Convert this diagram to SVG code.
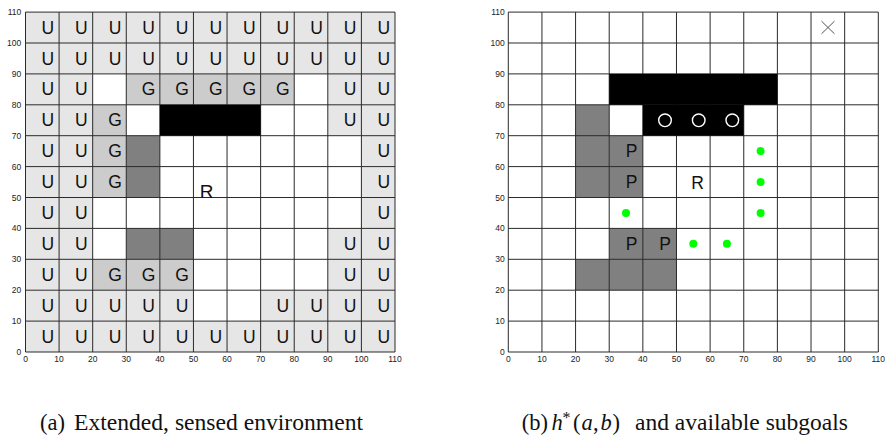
<svg xmlns="http://www.w3.org/2000/svg" width="885" height="437" viewBox="0 0 885 437">
  <style>
    .u { fill: #e6e6e6; }
    .g { fill: #cccccc; }
    .d { fill: #808080; }
    .k { fill: #000000; }
    .grid { fill: none; stroke: #2a2a2a; stroke-width: 1; }
    .lt { font-family: "Liberation Sans", Arial, sans-serif; font-size: 17.5px; fill: #111; text-anchor: middle; }
    .tk { font-family: "Liberation Sans", Arial, sans-serif; font-size: 8.5px; fill: #222; }
    .tx { text-anchor: middle; }
    .ty { text-anchor: end; }
    .cap { font-family: "Liberation Serif", "Times New Roman", serif; font-size: 22.5px; fill: #111; }
    .mi { font-style: italic; }
    .sg { fill: #00ff00; }
    .ring { fill: none; stroke: #ffffff; stroke-width: 1.4; }
  </style>

  <rect x="0" y="0" width="885" height="437" fill="#ffffff"/>

  <!-- Panel (a): extended, sensed environment -->
  <g id="panel-a">
    <g id="cells-a">
      <rect class="u" x="25.5" y="12.1" width="369.5" height="61.8"/>
      <rect class="u" x="25.5" y="73.9" width="67.18" height="30.9"/>
      <rect class="g" x="126.27" y="73.9" width="167.95" height="30.9"/>
      <rect class="u" x="327.81" y="73.9" width="67.19" height="30.9"/>
      <rect class="u" x="25.5" y="104.8" width="67.18" height="30.9"/>
      <rect class="g" x="92.68" y="104.8" width="33.59" height="30.9"/>
      <rect class="u" x="327.81" y="104.8" width="67.19" height="30.9"/>
      <rect class="u" x="25.5" y="135.7" width="67.18" height="92.7"/>
      <rect class="g" x="92.68" y="135.7" width="33.59" height="61.8"/>
      <rect class="d" x="126.27" y="135.7" width="33.59" height="61.8"/>
      <rect class="u" x="361.4" y="135.7" width="33.6" height="92.7"/>
      <rect class="u" x="25.5" y="228.4" width="67.18" height="61.8"/>
      <rect class="d" x="126.27" y="228.4" width="67.18" height="30.9"/>
      <rect class="u" x="327.81" y="228.4" width="67.19" height="61.8"/>
      <rect class="g" x="92.68" y="259.3" width="100.77" height="30.9"/>
      <rect class="u" x="25.5" y="290.2" width="167.95" height="30.9"/>
      <rect class="u" x="260.63" y="290.2" width="134.37" height="30.9"/>
      <rect class="u" x="25.5" y="321.1" width="369.5" height="30.9"/>
    </g>
    <path id="grid-a" class="grid" d="M25.5 12.1V352M59.09 12.1V352M92.68 12.1V352M126.27 12.1V352M159.86 12.1V352M193.45 12.1V352M227.04 12.1V352M260.63 12.1V352M294.22 12.1V352M327.81 12.1V352M361.4 12.1V352M395 12.1V352M25.5 12.1H395M25.5 43H395M25.5 73.9H395M25.5 104.8H395M25.5 135.7H395M25.5 166.6H395M25.5 197.5H395M25.5 228.4H395M25.5 259.3H395M25.5 290.2H395M25.5 321.1H395M25.5 352H395"/>
    <!-- solid obstacle sits on top of the grid -->
    <g id="obstacle-a">
      <rect class="k" x="159.86" y="104.8" width="100.77" height="30.9"/>
    </g>
    <g id="marks-a" class="lt">
      <!-- y 100-110 -->
      <text x="47.8" y="33.6">U</text><text x="81.39" y="33.6">U</text><text x="114.98" y="33.6">U</text><text x="148.57" y="33.6">U</text><text x="182.16" y="33.6">U</text><text x="215.75" y="33.6">U</text><text x="249.34" y="33.6">U</text><text x="282.93" y="33.6">U</text><text x="316.52" y="33.6">U</text><text x="350.11" y="33.6">U</text><text x="383.7" y="33.6">U</text>
      <!-- y 90-100 -->
      <text x="47.8" y="64.5">U</text><text x="81.39" y="64.5">U</text><text x="114.98" y="64.5">U</text><text x="148.57" y="64.5">U</text><text x="182.16" y="64.5">U</text><text x="215.75" y="64.5">U</text><text x="249.34" y="64.5">U</text><text x="282.93" y="64.5">U</text><text x="316.52" y="64.5">U</text><text x="350.11" y="64.5">U</text><text x="383.7" y="64.5">U</text>
      <!-- y 80-90 -->
      <text x="47.8" y="95.4">U</text><text x="81.39" y="95.4">U</text><text x="148.57" y="95.4">G</text><text x="182.16" y="95.4">G</text><text x="215.75" y="95.4">G</text><text x="249.34" y="95.4">G</text><text x="282.93" y="95.4">G</text><text x="350.11" y="95.4">U</text><text x="383.7" y="95.4">U</text>
      <!-- y 70-80 -->
      <text x="47.8" y="126.3">U</text><text x="81.39" y="126.3">U</text><text x="114.98" y="126.3">G</text><text x="350.11" y="126.3">U</text><text x="383.7" y="126.3">U</text>
      <!-- y 60-70 -->
      <text x="47.8" y="157.2">U</text><text x="81.39" y="157.2">U</text><text x="114.98" y="157.2">G</text><text x="383.7" y="157.2">U</text>
      <!-- y 50-60 -->
      <text x="47.8" y="188.1">U</text><text x="81.39" y="188.1">U</text><text x="114.98" y="188.1">G</text><text x="383.7" y="188.1">U</text>
      <!-- y 40-50 -->
      <text x="47.8" y="219">U</text><text x="81.39" y="219">U</text><text x="383.7" y="219">U</text>
      <!-- y 30-40 -->
      <text x="47.8" y="249.9">U</text><text x="81.39" y="249.9">U</text><text x="350.11" y="249.9">U</text><text x="383.7" y="249.9">U</text>
      <!-- y 20-30 -->
      <text x="47.8" y="280.8">U</text><text x="81.39" y="280.8">U</text><text x="114.98" y="280.8">G</text><text x="148.57" y="280.8">G</text><text x="182.16" y="280.8">G</text><text x="350.11" y="280.8">U</text><text x="383.7" y="280.8">U</text>
      <!-- y 10-20 -->
      <text x="47.8" y="311.7">U</text><text x="81.39" y="311.7">U</text><text x="114.98" y="311.7">U</text><text x="148.57" y="311.7">U</text><text x="182.16" y="311.7">U</text><text x="282.93" y="311.7">U</text><text x="316.52" y="311.7">U</text><text x="350.11" y="311.7">U</text><text x="383.7" y="311.7">U</text>
      <!-- y 0-10 -->
      <text x="47.8" y="342.6">U</text><text x="81.39" y="342.6">U</text><text x="114.98" y="342.6">U</text><text x="148.57" y="342.6">U</text><text x="182.16" y="342.6">U</text><text x="215.75" y="342.6">U</text><text x="249.34" y="342.6">U</text><text x="282.93" y="342.6">U</text><text x="316.52" y="342.6">U</text><text x="350.11" y="342.6">U</text><text x="383.7" y="342.6">U</text>
    </g>
    <g id="robot-a"><text class="lt" x="206.5" y="197.7" style="font-size:19px">R</text></g>
    <g id="ticks-a" class="tk">
      <g class="tx">
        <text x="25.5" y="362.3">0</text><text x="59.09" y="362.3">10</text><text x="92.68" y="362.3">20</text><text x="126.27" y="362.3">30</text><text x="159.86" y="362.3">40</text><text x="193.45" y="362.3">50</text><text x="227.04" y="362.3">60</text><text x="260.63" y="362.3">70</text><text x="294.22" y="362.3">80</text><text x="327.81" y="362.3">90</text><text x="361.4" y="362.3">100</text><text x="395" y="362.3">110</text>
      </g>
      <g class="ty">
        <text x="21.3" y="354.5">0</text><text x="21.3" y="324.1">10</text><text x="21.3" y="293.2">20</text><text x="21.3" y="262.3">30</text><text x="21.3" y="231.4">40</text><text x="21.3" y="200.5">50</text><text x="21.3" y="169.6">60</text><text x="21.3" y="138.7">70</text><text x="21.3" y="107.8">80</text><text x="21.3" y="76.9">90</text><text x="21.3" y="46">100</text><text x="21.3" y="15.1">110</text>
      </g>
    </g>
    <text id="caption-a" class="cap" y="430"><tspan x="40">(a)</tspan><tspan x="74" textLength="289" lengthAdjust="spacingAndGlyphs">Extended, sensed environment</tspan></text>
  </g>

  <!-- Panel (b): h*(a,b) and available subgoals -->
  <g id="panel-b">
    <g id="cells-b">
      <rect class="d" x="575.57" y="104.8" width="33.64" height="92.7"/>
      <rect class="d" x="609.21" y="135.7" width="33.64" height="61.8"/>
      <rect class="d" x="609.21" y="228.4" width="67.28" height="30.9"/>
      <rect class="d" x="575.57" y="259.3" width="100.92" height="30.9"/>
    </g>
    <path id="grid-b" class="grid" d="M508.3 12.1V352M541.94 12.1V352M575.57 12.1V352M609.21 12.1V352M642.85 12.1V352M676.48 12.1V352M710.12 12.1V352M743.75 12.1V352M777.39 12.1V352M811.03 12.1V352M844.66 12.1V352M878.3 12.1V352M508.3 12.1H878.3M508.3 43H878.3M508.3 73.9H878.3M508.3 104.8H878.3M508.3 135.7H878.3M508.3 166.6H878.3M508.3 197.5H878.3M508.3 228.4H878.3M508.3 259.3H878.3M508.3 290.2H878.3M508.3 321.1H878.3M508.3 352H878.3"/>
    <!-- solid obstacle sits on top of the grid -->
    <g id="obstacle-b">
      <rect class="k" x="609.21" y="73.9" width="168.18" height="30.9"/>
      <rect class="k" x="642.85" y="104.8" width="100.9" height="30.9"/>
      <circle class="ring" cx="665" cy="120.3" r="6.3"/>
      <circle class="ring" cx="698.7" cy="120.3" r="6.3"/>
      <circle class="ring" cx="732.3" cy="120.3" r="6.3"/>
    </g>
    <g id="marks-b" class="lt">
      <text x="631.5" y="157.2">P</text>
      <text x="631.5" y="188.1">P</text>
      <text x="631.5" y="249.9">P</text>
      <text x="665.15" y="249.9">P</text>
    </g>
    <g id="robot-b"><text class="lt" x="697.5" y="188.5">R</text></g>
    <g id="subgoals-b">
      <circle class="sg" cx="760.6" cy="151.1" r="4"/>
      <circle class="sg" cx="760.6" cy="182" r="4"/>
      <circle class="sg" cx="760.6" cy="212.9" r="4"/>
      <circle class="sg" cx="626" cy="212.9" r="4"/>
      <circle class="sg" cx="693.3" cy="243.8" r="4"/>
      <circle class="sg" cx="726.9" cy="243.8" r="4"/>
    </g>
    <g id="goal-b">
      <path d="M821.5 21.2L834.5 33.8M821.5 33.8L834.5 21.2" fill="none" stroke="#555" stroke-width="1"/>
    </g>
    <g id="ticks-b" class="tk">
      <g class="tx">
        <text x="508.3" y="362.3">0</text><text x="541.94" y="362.3">10</text><text x="575.57" y="362.3">20</text><text x="609.21" y="362.3">30</text><text x="642.85" y="362.3">40</text><text x="676.48" y="362.3">50</text><text x="710.12" y="362.3">60</text><text x="743.75" y="362.3">70</text><text x="777.39" y="362.3">80</text><text x="811.03" y="362.3">90</text><text x="844.66" y="362.3">100</text><text x="878.3" y="362.3">110</text>
      </g>
      <g class="ty">
        <text x="504.8" y="354.5">0</text><text x="504.8" y="324.1">10</text><text x="504.8" y="293.2">20</text><text x="504.8" y="262.3">30</text><text x="504.8" y="231.4">40</text><text x="504.8" y="200.5">50</text><text x="504.8" y="169.6">60</text><text x="504.8" y="138.7">70</text><text x="504.8" y="107.8">80</text><text x="504.8" y="76.9">90</text><text x="504.8" y="46">100</text><text x="504.8" y="15.1">110</text>
      </g>
    </g>
    <text id="caption-b" class="cap" y="430"><tspan x="521.7">(b)</tspan><tspan x="551.5" class="mi">h</tspan><tspan x="562.5" y="423" style="font-size:16px">*</tspan><tspan x="573" y="430">(</tspan><tspan x="581.5" class="mi">a</tspan><tspan x="593">,</tspan><tspan x="600.5" class="mi">b</tspan><tspan x="612.5">)</tspan><tspan x="635" textLength="213" lengthAdjust="spacingAndGlyphs">and available subgoals</tspan></text>
  </g>
</svg>
